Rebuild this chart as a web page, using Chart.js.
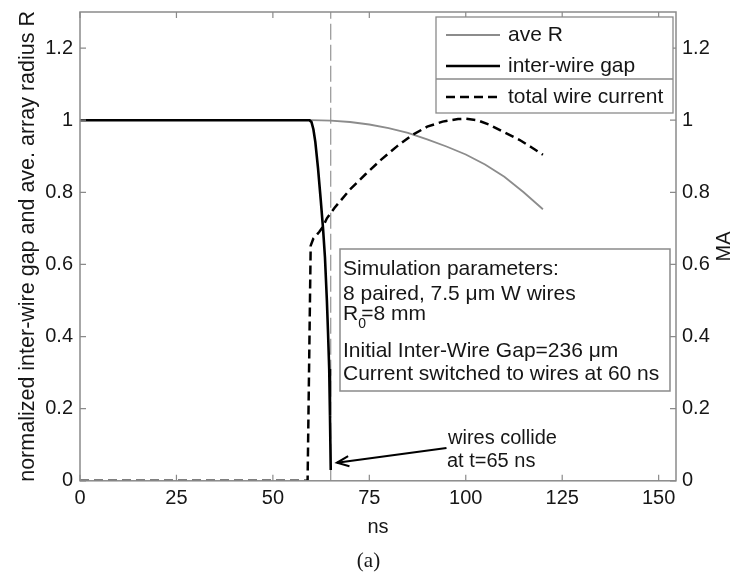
<!DOCTYPE html>
<html><head><meta charset="utf-8">
<script src="https://cdn.jsdelivr.net/npm/chart.js@4.4.1/dist/chart.umd.min.js"></script>
<style>html,body{margin:0;padding:0;background:#fff;}#wrap{width:737px;height:579px;}</style>
</head><body><div id="wrap"><canvas id="c" width="737" height="579"></canvas></div>
<script>
// ---------- data ----------
const xTicks = [0, 25, 50, 75, 100, 125, 150];
const xTickLabels = ['0', '25', '50', '75', '100', '125', '150'];
const yTicks = [0, 0.2, 0.4, 0.6, 0.8, 1, 1.2];
const yTickLabels = ['0', '0.2', '0.4', '0.6', '0.8', '1', '1.2'];
const xRange = [0, 154.5];
const yRange = [0, 1.3];
const seriesNames = ['ave R', 'inter-wire gap', 'total wire current'];

const timeAveR = [0, 60, 65, 70, 75, 80, 85, 90, 95, 100, 105, 110, 115, 120];
const aveR     = [1, 1, 0.999, 0.995, 0.988, 0.978, 0.965, 0.947, 0.927, 0.905, 0.877, 0.843, 0.800, 0.753];

const timeGap = [0, 59.5, 60, 60.5, 61, 61.7, 62.4, 63, 63.5, 64, 64.3, 64.6, 64.8, 65];
const gap     = [1, 1, 0.995, 0.975, 0.94, 0.867, 0.78, 0.70, 0.62, 0.50, 0.41, 0.31, 0.18, 0.03];

const timeCurrent = [0, 59, 59.8, 60.5, 62, 63, 64, 66, 70, 74, 78, 82, 86, 90, 94, 98, 100, 103, 106, 110, 114, 117, 120];
const current     = [0, 0, 0.652, 0.672, 0.69, 0.705, 0.728, 0.757, 0.808, 0.85, 0.89, 0.926, 0.958, 0.982, 0.996, 1.003, 1.004, 1.0, 0.988, 0.966, 0.945, 0.925, 0.904];

const collideTime = 65;
const collideSpan = [0, 1.3];

const xTitle = 'ns';
const yTitle = 'normalized inter-wire gap and ave. array radius R';
const y2Title = 'MA';
const caption = '(a)';
const paramLines = ['Simulation parameters:', '8 paired, 7.5 \u03bcm W wires', 'R|0|=8 mm', 'Initial Inter-Wire Gap=236 \u03bcm', 'Current switched to wires at 60 ns'];
const arrowText = ['wires collide', 'at t=65 ns'];
const arrowHead = {x: 66.6, y: 0.05};
const arrowTail = {x: 95, y: 0.091};

// ---------- chart ----------
const FONT = "'Liberation Sans', Arial, sans-serif";
const TXT = '#161616';
const FRAME = '#8a8a8a';
Chart.defaults.font.family = FONT;
Chart.defaults.font.size = 20;
Chart.defaults.color = TXT;

const pts = (xs, ys) => xs.map((x, i) => ({x: x, y: ys[i]}));

const decor = {
  id: 'decor',
  afterDraw(chart) {
    const ctx = chart.ctx, ca = chart.chartArea;
    const sx = chart.scales.x, sy = chart.scales.y, sy2 = chart.scales.y2;
    ctx.save();
    // frame
    ctx.strokeStyle = FRAME; ctx.lineWidth = 1.5;
    ctx.strokeRect(ca.left, ca.top, ca.right - ca.left, ca.bottom - ca.top);
    // inward ticks
    ctx.lineWidth = 1.2;
    ctx.beginPath();
    xTicks.forEach(v => {
      const px = sx.getPixelForValue(v);
      ctx.moveTo(px, ca.bottom); ctx.lineTo(px, ca.bottom - 6);
      ctx.moveTo(px, ca.top); ctx.lineTo(px, ca.top + 6);
    });
    yTicks.forEach(v => {
      const py = sy.getPixelForValue(v);
      ctx.moveTo(ca.left, py); ctx.lineTo(ca.left + 6, py);
      const py2 = sy2.getPixelForValue(v);
      ctx.moveTo(ca.right, py2); ctx.lineTo(ca.right - 6, py2);
    });
    ctx.stroke();

    // legend
    const lx0 = 436, ly0 = 17, lx1 = ca.right - 3, ly1 = 113, lsep = 79;
    ctx.fillStyle = '#fff';
    ctx.fillRect(lx0, ly0, lx1 - lx0, ly1 - ly0);
    ctx.strokeStyle = FRAME; ctx.lineWidth = 1.3;
    ctx.strokeRect(lx0, ly0, lx1 - lx0, ly1 - ly0);
    ctx.beginPath(); ctx.moveTo(lx0, lsep); ctx.lineTo(lx1, lsep); ctx.stroke();
    const ly = [35, 66, 97];
    ctx.font = '21px ' + FONT; ctx.textBaseline = 'middle'; ctx.textAlign = 'left';
    seriesNames.forEach((name, i) => {
      const ds = chart.data.datasets[i];
      ctx.strokeStyle = ds.borderColor; ctx.lineWidth = ds.borderWidth;
      ctx.setLineDash(ds.borderDash || []);
      ctx.beginPath(); ctx.moveTo(446, ly[i]); ctx.lineTo(500, ly[i]); ctx.stroke();
      ctx.setLineDash([]);
      ctx.fillStyle = TXT; ctx.fillText(name, 508, ly[i]);
    });

    // parameter box
    const bx0 = 340, by0 = 249, bx1 = 670, by1 = 391;
    ctx.fillStyle = '#fff';
    ctx.fillRect(bx0, by0, bx1 - bx0, by1 - by0);
    ctx.strokeStyle = FRAME; ctx.lineWidth = 1.5;
    ctx.strokeRect(bx0, by0, bx1 - bx0, by1 - by0);
    const base = [275, 300, 320, 357, 380];
    ctx.fillStyle = TXT; ctx.textBaseline = 'alphabetic';
    paramLines.forEach((line, i) => {
      ctx.font = '21px ' + FONT;
      if (line.indexOf('|') >= 0) {
        const parts = line.split('|');
        ctx.fillText(parts[0], 343, base[i]);
        const w = ctx.measureText(parts[0]).width;
        ctx.fillText(parts[2], 343 + w + 3, base[i]);
        ctx.font = '14px ' + FONT;
        ctx.fillText(parts[1], 343 + w, base[i] + 8);
      } else {
        ctx.fillText(line, 343, base[i]);
      }
    });

    // arrow
    const hx = sx.getPixelForValue(arrowHead.x), hy = sy.getPixelForValue(arrowHead.y);
    const tx = sx.getPixelForValue(arrowTail.x), ty = sy.getPixelForValue(arrowTail.y);
    ctx.strokeStyle = '#000'; ctx.lineWidth = 2;
    ctx.beginPath(); ctx.moveTo(tx, ty); ctx.lineTo(hx, hy); ctx.stroke();
    const ang = Math.atan2(ty - hy, tx - hx);
    ctx.beginPath();
    ctx.moveTo(hx + 13 * Math.cos(ang + 0.4), hy + 13 * Math.sin(ang + 0.4));
    ctx.lineTo(hx, hy);
    ctx.lineTo(hx + 13 * Math.cos(ang - 0.4), hy + 13 * Math.sin(ang - 0.4));
    ctx.stroke();
    ctx.font = '20px ' + FONT; ctx.fillStyle = TXT;
    ctx.fillText(arrowText[0], 448, 444);
    ctx.fillText(arrowText[1], 447, 467);

    // right axis title
    ctx.save();
    ctx.translate(724, (ca.top + ca.bottom) / 2);
    ctx.rotate(-Math.PI / 2);
    ctx.textAlign = 'center'; ctx.textBaseline = 'middle';
    ctx.font = '20px ' + FONT;
    ctx.fillText(y2Title, 0, 0);
    ctx.restore();
    ctx.restore();
  }
};

const tickSetter = (vals) => (s) => { s.ticks = vals.map(v => ({value: v})); };
const noPad = (s) => { s.paddingTop = 0; s.paddingBottom = 0; s.paddingLeft = 0; s.paddingRight = 0; };

new Chart(document.getElementById('c'), {
  type: 'line',
  data: {
    datasets: [
      {label: seriesNames[0], data: pts(timeAveR, aveR), borderColor: '#8c8c8c', borderWidth: 1.8, pointRadius: 0, yAxisID: 'y', order: 2},
      {label: seriesNames[1], data: pts(timeGap, gap), borderColor: '#000', borderWidth: 2.6, pointRadius: 0, yAxisID: 'y', order: 1},
      {label: seriesNames[2], data: pts(timeCurrent, current), borderColor: '#000', borderWidth: 2.5, borderDash: [9, 5], pointRadius: 0, yAxisID: 'y2', order: 1},
      {label: 'collision', data: pts([collideTime, collideTime], collideSpan), borderColor: '#8a8a8a', borderWidth: 1.1, borderDash: [16, 5], pointRadius: 0, yAxisID: 'y', order: 3}
    ]
  },
  options: {
    responsive: false, animation: false, devicePixelRatio: 1,
    layout: {padding: {top: 12, left: 0, right: 0, bottom: 0}},
    plugins: {
      legend: {display: false}, tooltip: {enabled: false},
      title: {display: true, text: caption, position: 'bottom', color: TXT,
              font: {family: "'Liberation Serif', 'Times New Roman', serif", size: 21, weight: 'normal'},
              padding: {top: 0, bottom: 5}}
    },
    scales: {
      x: {type: 'linear', min: xRange[0], max: xRange[1],
          afterBuildTicks: tickSetter(xTicks),
          ticks: {callback: (v) => xTickLabels[xTicks.indexOf(v)], padding: 6, maxRotation: 0, autoSkip: false},
          grid: {display: false, drawTicks: false, tickLength: 0}, border: {display: false},
          title: {display: true, text: xTitle, padding: {top: 0, bottom: 9}},
          afterFit: (s) => { s.height = 68; noPad(s); }},
      y: {type: 'linear', position: 'left', min: yRange[0], max: yRange[1],
          afterBuildTicks: tickSetter(yTicks),
          ticks: {callback: (v) => yTickLabels[yTicks.indexOf(v)], padding: 7, autoSkip: false},
          grid: {display: false, drawTicks: false, tickLength: 0}, border: {display: false},
          title: {display: true, text: yTitle, font: {size: 21.5}, padding: {top: 15, bottom: 0}},
          afterFit: (s) => { s.width = 80; noPad(s); }},
      y2: {type: 'linear', position: 'right', min: yRange[0], max: yRange[1],
          afterBuildTicks: tickSetter(yTicks),
          ticks: {callback: (v) => yTickLabels[yTicks.indexOf(v)], padding: 6, autoSkip: false},
          grid: {display: false, drawTicks: false, tickLength: 0}, border: {display: false},
          afterFit: (s) => { s.width = 61; noPad(s); }}
    }
  },
  plugins: [decor]
});
</script></body></html>
